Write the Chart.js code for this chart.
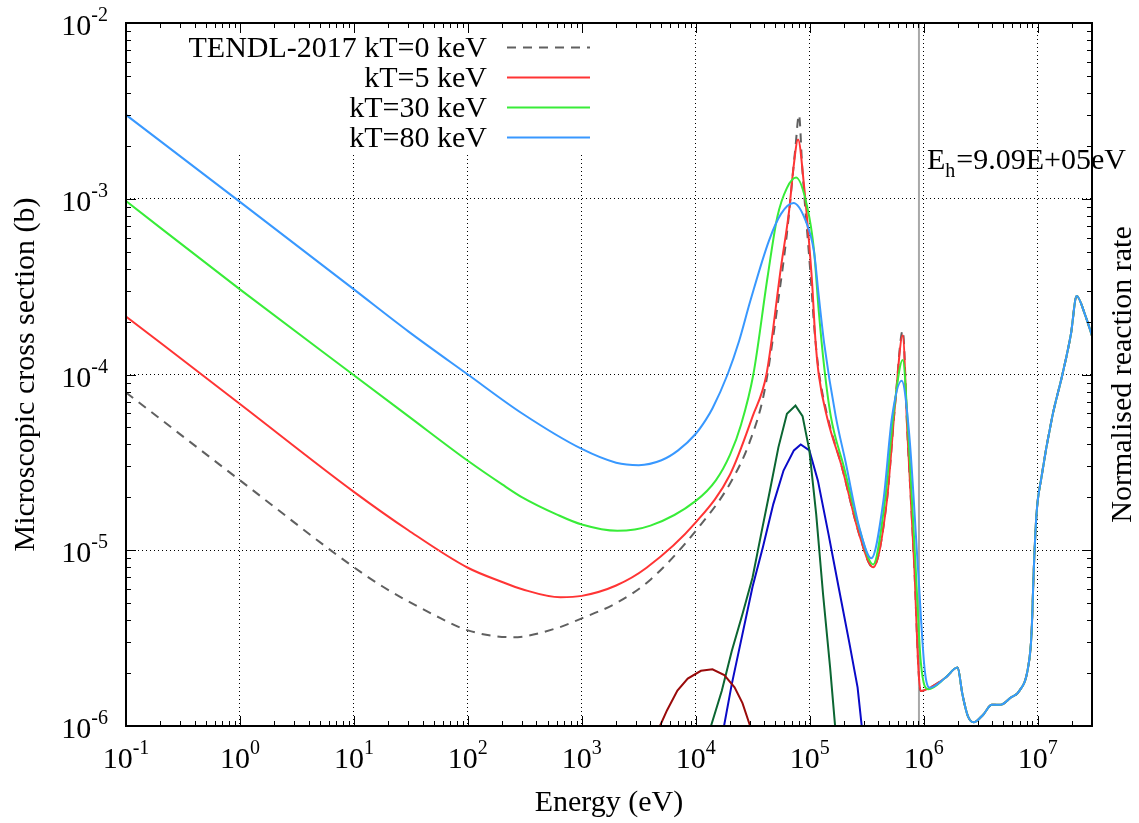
<!DOCTYPE html>
<html>
<head>
<meta charset="utf-8">
<title>Microscopic cross section</title>
<script src="https://cdn.jsdelivr.net/npm/chart.js@4.4.1/dist/chart.umd.min.js"></script>
<style>
  html, body { margin: 0; padding: 0; background: #fff; }
  canvas { display: block; }
</style>
</head>
<body>
<canvas id="xsChart" width="1139" height="823"></canvas>
<script>
// energies in eV, cross sections in barn
const tailE  = [1.55e6, 1.98e6, 2.19e6, 2.44e6, 2.74e6, 3.33e6, 3.96e6, 4.72e6, 5.8e6, 6.9e6, 8.24e6, 8.83e6, 9.27e6, 9.77e6, 1.08e7, 1.34e7, 1.65e7, 1.96e7, 2.2e7, 2.6e7, 3e7];
const tailXS = [1.88e-6, 2.15e-6, 1.51e-6, 1.14e-6, 1.05e-6, 1.16e-6, 1.32e-6, 1.32e-6, 1.45e-6, 1.58e-6, 2.15e-6, 3.3e-6, 8e-6, 1.6e-5, 2.6e-5, 5.7e-5, 1.0e-4, 1.7e-4, 2.8e-4, 2.2e-4, 1.66e-4];

// TENDL-2017, kT = 0
const e0  = [0.1, 1, 10, 18, 50, 100, 250, 600, 1000, 2000, 4000, 1e4, 2e4, 3e4, 4e4, 5.4e4, 6.3e4, 7.5e4, 8.05e4, 8.6e4, 1.02e5, 1.1e5, 1.2e5, 1.43e5, 1.92e5, 2.72e5, 3.6e5, 4.75e5, 5.65e5, 6.55e5, 7.2e5, 8.28e5, 9.0e5, 9.4e5, 1.13e6];
const xs0 = [7.9e-5, 2.5e-5, 8.0e-6, 6.2e-6, 4.3e-6, 3.5e-6, 3.2e-6, 3.6e-6, 4.1e-6, 5.0e-6, 6.8e-6, 1.29e-5, 2.4e-5, 4.2e-5, 8.0e-5, 2.9e-4, 6.3e-4, 1.97e-3, 3.0e-3, 1.5e-3, 3.6e-4, 1.8e-4, 1.05e-4, 5.8e-5, 2.96e-5, 1.23e-5, 8.0e-6, 1.91e-5, 7.1e-5, 1.78e-4, 4.6e-5, 8.0e-6, 2.1e-6, 1.58e-6, 1.65e-6];

// kT = 5 keV
const e5  = [0.1, 1, 10, 30, 100, 200, 300, 650, 1000, 2000, 3700, 1e4, 2e4, 3.16e4, 4.17e4, 5.6e4, 6.6e4, 7.2e4, 7.9e4, 8.9e4, 9.9e4, 1.05e5, 1.12e5, 1.2e5, 1.43e5, 1.92e5, 2.72e5, 3.6e5, 4.75e5, 5.65e5, 6.55e5, 7.2e5, 8.28e5, 9.0e5, 9.4e5, 1.13e6];
const xs5 = [2.14e-4, 6.8e-5, 2.15e-5, 1.3e-5, 7.95e-6, 6.6e-6, 6.0e-6, 5.4e-6, 5.5e-6, 6.3e-6, 7.95e-6, 1.44e-5, 2.7e-5, 5.8e-5, 1.0e-4, 4.1e-4, 8.6e-4, 1.5e-3, 2.17e-3, 1.2e-3, 5.5e-4, 3.3e-4, 1.6e-4, 1.0e-4, 5.6e-5, 2.96e-5, 1.23e-5, 8.0e-6, 1.91e-5, 7.1e-5, 1.67e-4, 4.6e-5, 8.0e-6, 2.1e-6, 1.58e-6, 1.65e-6];

// kT = 30 keV
const e30  = [0.1, 1, 10, 30, 100, 200, 300, 600, 1000, 2050, 4000, 1e4, 1.5e4, 2e4, 2.5e4, 3.2e4, 4.27e4, 5.2e4, 6.3e4, 7.6e4, 9.5e4, 1.09e5, 1.2e5, 1.34e5, 1.53e5, 2.0e5, 2.75e5, 3.6e5, 4.57e5, 5.5e5, 6.55e5, 7.33e5, 8.5e5, 9.44e5, 1.1e6];
const xs30 = [9.7e-4, 3.05e-4, 9.9e-5, 5.8e-5, 3.23e-5, 2.37e-5, 2.0e-5, 1.6e-5, 1.4e-5, 1.29e-5, 1.38e-5, 1.91e-5, 2.5e-5, 3.5e-5, 5.2e-5, 1.0e-4, 3.6e-4, 7.9e-4, 1.15e-3, 1.32e-3, 9.0e-4, 5.1e-4, 2.3e-4, 1.1e-4, 5.8e-5, 2.96e-5, 1.3e-5, 8.3e-6, 1.91e-5, 6.4e-5, 1.21e-4, 4.6e-5, 8e-6, 2.3e-6, 1.62e-6];

// kT = 80 keV
const e80  = [0.1, 1, 10, 30, 100, 300, 1000, 2000, 3160, 5000, 7000, 1e4, 1.22e4, 1.4e4, 1.9e4, 2.4e4, 3.0e4, 4.4e4, 5.6e4, 7.2e4, 9.2e4, 1.09e5, 1.2e5, 1.34e5, 1.69e5, 2.06e5, 2.72e5, 3.47e5, 4.43e5, 5.27e5, 6.41e5, 7.46e5, 8.9e5, 1.02e6, 1.13e6];
const xs80 = [3.0e-3, 9.6e-4, 3.05e-4, 1.76e-4, 1.0e-4, 6.0e-5, 3.77e-5, 3.15e-5, 3.05e-5, 3.25e-5, 3.7e-5, 4.6e-5, 5.5e-5, 6.4e-5, 1.0e-4, 1.55e-4, 2.6e-4, 5.8e-4, 8.2e-4, 9.45e-4, 7.5e-4, 5.0e-4, 2.8e-4, 1.5e-4, 5.8e-5, 3.2e-5, 1.35e-5, 9.0e-6, 1.91e-5, 5.7e-5, 9.2e-5, 4.6e-5, 8e-6, 2.1e-6, 1.65e-6];

// normalised reaction rates (histograms)
const rateE5  = [4.85e3, 5.6e3, 6.9e3, 8.5e3, 1.11e4, 1.4e4, 1.78e4, 2.19e4, 2.57e4, 3.0e4];
const rate5   = [1e-6, 1.23e-6, 1.59e-6, 1.86e-6, 2.06e-6, 2.1e-6, 1.95e-6, 1.66e-6, 1.35e-6, 1e-6];
const rateE30 = [1.36e4, 1.69e4, 2.07e4, 2.56e4, 3.15e4, 3.75e4, 4.47e4, 5.31e4, 6.31e4, 7.5e4, 8.65e4, 9.93e4, 1.14e5, 1.31e5, 1.51e5, 1.67e5];
const rate30  = [1e-6, 1.58e-6, 2.67e-6, 4.3e-6, 7.0e-6, 1.24e-5, 2.18e-5, 3.85e-5, 5.97e-5, 6.65e-5, 5.8e-5, 3.7e-5, 1.6e-5, 5.6e-6, 2.15e-6, 1e-6];
const rateE80 = [1.77e4, 2.07e4, 2.56e4, 3.15e4, 3.88e4, 4.79e4, 5.89e4, 7.26e4, 8.34e4, 9.93e4, 1.18e5, 1.46e5, 1.79e5, 2.21e5, 2.63e5, 2.86e5];
const rate80  = [1e-6, 1.73e-6, 3.3e-6, 6.2e-6, 1.04e-5, 1.83e-5, 2.84e-5, 3.7e-5, 4.0e-5, 3.7e-5, 2.49e-5, 1.24e-5, 6.2e-6, 3.05e-6, 1.66e-6, 1e-6];

const xDecades = [-1, 0, 1, 2, 3, 4, 5, 6, 7];
const yDecades = [-6, -5, -4, -3, -2];
const eHigh = 9.09e5;
const legendLabels = ['TENDL-2017 kT=0 keV', 'kT=5 keV', 'kT=30 keV', 'kT=80 keV'];

const FONT = '"Liberation Serif", serif';

const pts = (xs, ys) => xs.map((x, i) => ({ x: x, y: ys[i] }));

const curve = (label, xs, ys, color, order, dash) => ({
    label: label,
    data: pts(xs, ys),
    borderColor: color,
    borderWidth: 2,
    borderDash: dash || [],
    pointRadius: 0,
    fill: false,
    cubicInterpolationMode: 'monotone',
    order: order
});

const hist = (label, xs, ys, color, order) => ({
    label: label,
    data: pts(xs, ys),
    borderColor: color,
    borderWidth: 2,
    pointRadius: 0,
    fill: false,
    tension: 0,
    yAxisID: 'y2',
    order: order
});

function textWithExp(ctx, base, exp, x, y, align, size, expSize, rise, sub) {
    ctx.font = size + 'px ' + FONT;
    const w1 = ctx.measureText(base).width;
    ctx.font = expSize + 'px ' + FONT;
    const w2 = ctx.measureText(exp).width;
    let x0 = x;
    if (align === 'center') x0 = x - (w1 + w2) / 2;
    if (align === 'right') x0 = x - w1 - w2;
    ctx.textAlign = 'left';
    ctx.textBaseline = 'alphabetic';
    ctx.font = size + 'px ' + FONT;
    ctx.fillText(base, x0, y);
    ctx.font = expSize + 'px ' + FONT;
    ctx.fillText(exp, x0 + w1, sub ? y + rise : y - rise);
    return x0 + w1 + w2;
}

const decor = {
    id: 'decor',
    beforeDatasetsDraw(chart) {
        const { ctx, chartArea: a, scales } = chart;
        ctx.save();
        // opaque key box
        ctx.fillStyle = '#fff';
        ctx.fillRect(180, a.top + 1, 420, 129);
        // E_h marker
        const xh = scales.x.getPixelForValue(eHigh);
        ctx.strokeStyle = '#a8a8a8';
        ctx.lineWidth = 2;
        ctx.beginPath();
        ctx.moveTo(xh, a.top);
        ctx.lineTo(xh, a.bottom);
        ctx.stroke();
        ctx.restore();
    },
    afterDraw(chart) {
        const { ctx, chartArea: a, scales } = chart;
        const xs = scales.x, ys = scales.y;
        ctx.save();
        ctx.fillStyle = '#000';
        ctx.strokeStyle = '#000';

        // tick marks (inward, all four sides)
        ctx.lineWidth = 1;
        ctx.beginPath();
        xDecades.forEach(d => {
            for (let m = 1; m <= 9; m++) {
                const v = m * Math.pow(10, d);
                if (v < xs.min * 0.999 || v > xs.max * 1.001) continue;
                const p = Math.round(xs.getPixelForValue(v)) + 0.5;
                const len = m === 1 ? 10 : 5;
                ctx.moveTo(p, a.bottom); ctx.lineTo(p, a.bottom - len);
                ctx.moveTo(p, a.top); ctx.lineTo(p, a.top + len);
            }
        });
        yDecades.forEach(d => {
            for (let m = 1; m <= 9; m++) {
                const v = m * Math.pow(10, d);
                if (v < ys.min * 0.999 || v > ys.max * 1.001) continue;
                const p = Math.round(ys.getPixelForValue(v)) + 0.5;
                const len = m === 1 ? 10 : 5;
                ctx.moveTo(a.left, p); ctx.lineTo(a.left + len, p);
                ctx.moveTo(a.right, p); ctx.lineTo(a.right - len, p);
            }
        });
        ctx.stroke();

        // frame
        ctx.lineWidth = 2;
        ctx.strokeRect(a.left, a.top, a.right - a.left, a.bottom - a.top);

        // tick labels
        xDecades.forEach(d => {
            const p = xs.getPixelForValue(Math.pow(10, d));
            textWithExp(ctx, '10', String(d), p, a.bottom + 42, 'center', 30, 20, 14);
        });
        yDecades.forEach(d => {
            const p = ys.getPixelForValue(Math.pow(10, d));
            textWithExp(ctx, '10', String(d), 108, p + 12, 'right', 30, 20, 14);
        });

        // axis titles
        ctx.font = '30px ' + FONT;
        ctx.textAlign = 'center';
        ctx.fillText('Energy (eV)', (a.left + a.right) / 2, 811);
        const midY = (a.top + a.bottom) / 2;
        ctx.save();
        ctx.translate(34, midY);
        ctx.rotate(-Math.PI / 2);
        ctx.fillText('Microscopic cross section (b)', 0, 0);
        ctx.restore();
        ctx.save();
        ctx.translate(1131, midY);
        ctx.rotate(-Math.PI / 2);
        ctx.fillText('Normalised reaction rate', 0, 0);
        ctx.restore();

        // E_h label
        const xh = xs.getPixelForValue(eHigh);
        const xe = textWithExp(ctx, 'E', 'h', xh + 8, 169, 'left', 30, 20, 8, true);
        ctx.font = '30px ' + FONT;
        ctx.textAlign = 'left';
        ctx.fillText('=9.09E+05eV', xe + 1, 169);

        // key
        legendLabels.forEach((lab, i) => {
            const ds = chart.data.datasets[i];
            const base = 57 + i * 30;
            ctx.font = '30px ' + FONT;
            ctx.textAlign = 'right';
            ctx.fillStyle = '#000';
            ctx.fillText(lab, 487, base);
            ctx.strokeStyle = ds.borderColor;
            ctx.lineWidth = 2;
            ctx.setLineDash(ds.borderDash || []);
            ctx.beginPath();
            ctx.moveTo(507, base - 9.5);
            ctx.lineTo(590, base - 9.5);
            ctx.stroke();
            ctx.setLineDash([]);
        });
        ctx.restore();
    }
};

const decadeTicks = (scale, decs) => {
    scale.ticks = decs.map(d => ({ value: Math.pow(10, d) }));
};

new Chart(document.getElementById('xsChart').getContext('2d'), {
    type: 'line',
    data: {
        datasets: [
            curve(legendLabels[0], e0.concat(tailE), xs0.concat(tailXS), '#606060', 3, [9, 7]),
            curve(legendLabels[1], e5.concat(tailE), xs5.concat(tailXS), '#ff3434', 2),
            curve(legendLabels[2], e30.concat(tailE), xs30.concat(tailXS), '#38ec38', 1),
            curve(legendLabels[3], e80.concat(tailE), xs80.concat(tailXS), '#3898ff', 0),
            hist('rate kT=5 keV', rateE5, rate5, '#9a0a0a', 4),
            hist('rate kT=30 keV', rateE30, rate30, '#0b6632', 5),
            hist('rate kT=80 keV', rateE80, rate80, '#0a0ac8', 6)
        ]
    },
    options: {
        responsive: false,
        animation: false,
        devicePixelRatio: 1,
        events: [],
        layout: { padding: { left: 126, top: 23, right: 47, bottom: 97 } },
        plugins: {
            legend: { display: false },
            tooltip: { enabled: false }
        },
        scales: {
            x: {
                type: 'logarithmic',
                min: 0.1,
                max: 3e7,
                afterBuildTicks: s => decadeTicks(s, xDecades),
                ticks: { display: false },
                grid: { color: '#000', lineWidth: 1, drawTicks: false },
                border: { display: false, dash: [1, 3] }
            },
            y: {
                type: 'logarithmic',
                min: 1e-6,
                max: 1e-2,
                afterBuildTicks: s => decadeTicks(s, yDecades),
                ticks: { display: false },
                grid: { color: '#000', lineWidth: 1, drawTicks: false },
                border: { display: false, dash: [1, 3] }
            },
            y2: {
                type: 'logarithmic',
                position: 'right',
                min: 1e-6,
                max: 1e-2,
                display: false
            }
        }
    },
    plugins: [decor]
});
</script>
</body>
</html>
